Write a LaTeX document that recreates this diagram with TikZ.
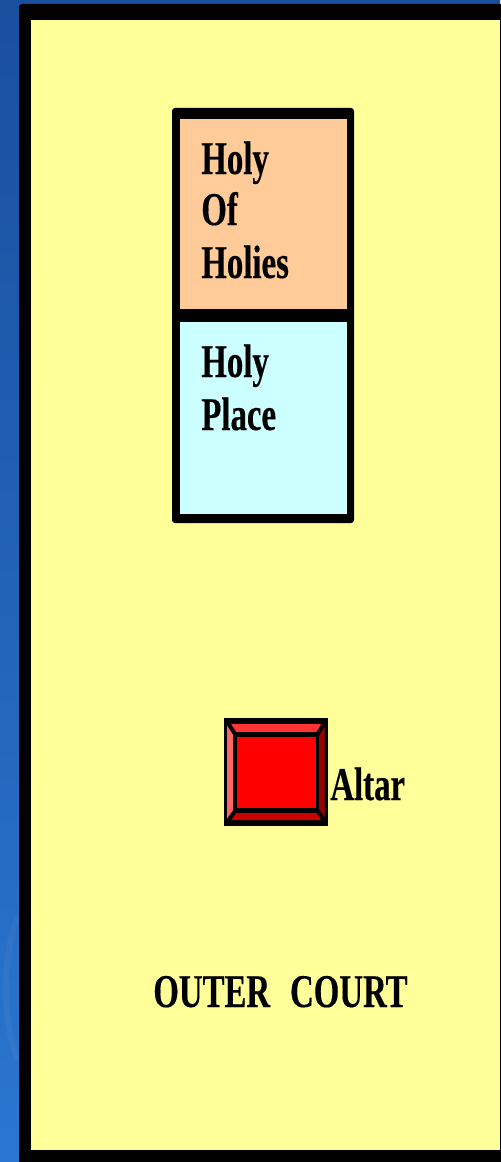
\documentclass[tikz,border=0pt]{standalone}
\usepackage{fontspec}
\newfontfamily\planfont[FakeStretch=0.7,FakeBold=0.3]{Liberation Serif}
\definecolor{courtyellow}{HTML}{FFFF99}
\definecolor{holiesorange}{HTML}{FFCC99}
\definecolor{placeblue}{HTML}{CCFFFF}
\definecolor{skytop}{HTML}{1A4F9E}
\definecolor{skybottom}{HTML}{2A76D0}
\definecolor{bevelt}{HTML}{FF3333}
\definecolor{bevell}{HTML}{FF6666}
\definecolor{bevelr}{HTML}{990000}
\definecolor{bevelb}{HTML}{CC0000}
\tikzset{
  plantext/.style={anchor=base west,inner sep=0pt,font=\planfont\bfseries\fontsize{26.7}{30}\selectfont},
  wall/.style={fill=black,rounded corners=0.06cm},
  bevel/.style={draw=black,line width=0.08cm}
}
\begin{document}
\begin{tikzpicture}[x=0.02cm,y=-0.02cm]

\useasboundingbox (0,0) rectangle (500,1162);

% Background
\fill[top color=skytop,bottom color=skybottom] (0,0) rectangle (500,1162);
\draw[white,opacity=0.04,line width=0.12cm] (18,917) .. controls (3,950) and (1,1020) .. (18,1060);

% Outer court
\fill[wall] (19,4) rectangle (520,1180);
\fill[courtyellow] (31,20.5) rectangle (500,1150);

% Holy house
\fill[wall] (172,108) rectangle (354,523);
\fill[holiesorange] (180,119) rectangle (347,309);
\fill[placeblue] (180,322) rectangle (347,514);

\node[plantext] (holy1) at (201,174) {Holy};
\node[plantext] (of) at (201,225) {Of};
\node[plantext] (holies) at (201,278) {Holies};
\node[plantext] (holy2) at (201,377) {Holy};
\node[plantext] (place) at (201,430) {Place};

% Altar
\fill[black] (224,718) rectangle (328,826);
\foreach \a/\b/\c/\d/\col in {
227/724/324.5/724/bevelt,
227/724/227/820/bevell,
324.5/724/324.5/820/bevelr,
227/820/324.5/820/bevelb%
}
{
\fill[\col] (\a,\b) -- (\c,\d) -- (276,772) -- cycle;
}
\draw[bevel] (226,720) -- (237,737);
\draw[bevel] (326,720) -- (316,737);
\draw[bevel] (226,824) -- (237,808);
\draw[bevel] (326,824) -- (316,808);
\fill[black] (233,732) rectangle (319,813);
\fill[red] (237,737) rectangle (316,808);

\node[plantext] (altar) at (330,800) {Altar};

% Court label
\node[plantext] (court) at (153,1007) {OUTER\hspace{0.4cm}COURT};

\end{tikzpicture}
\end{document}
